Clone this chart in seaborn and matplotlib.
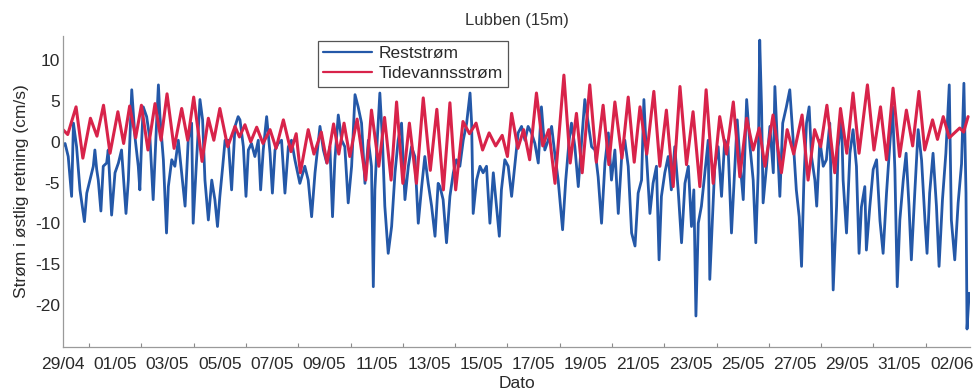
import numpy as np
import pandas as pd
import matplotlib
matplotlib.use("Agg")
import matplotlib.pyplot as plt
import matplotlib.dates as mdates
import seaborn as sns

# ---------------- data ----------------
start_date = "2013-04-29"
title_text = "Lubben (15m)"
y_label = "Strøm i østlig retning (cm/s)"
x_label = "Dato"
legend_labels = ["Reststrøm", "Tidevannsstrøm"]
y_ticks = [-20, -15, -10, -5, 0, 5, 10]

# Reststrøm (days after 29/04 00:00, cm/s)
rest_day = [
    0.00, 0.08, 0.20, 0.33, 0.40, 0.52, 0.65, 0.82, 0.91, 1.03, 1.16, 1.22, 1.29, 1.35, 1.45, 1.54,
    1.67, 1.73, 1.86, 1.99, 2.12, 2.24, 2.41, 2.50, 2.63, 2.75, 2.88, 2.94, 3.01, 3.07, 3.20, 3.33,
    3.45, 3.58, 3.65, 3.71, 3.84, 3.96, 4.03, 4.16, 4.28, 4.41, 4.54, 4.67, 4.79, 4.92, 4.98, 5.11,
    5.24, 5.34, 5.43, 5.56, 5.69, 5.81, 5.91, 6.00, 6.11, 6.20, 6.32, 6.45, 6.58, 6.70, 6.77, 6.90,
    7.00, 7.09, 7.21, 7.34, 7.47, 7.56, 7.66, 7.79, 7.92, 8.01, 8.11, 8.23, 8.36, 8.49, 8.62, 8.74,
    8.87, 9.06, 9.25, 9.38, 9.51, 9.64, 9.83, 9.96, 10.09, 10.21, 10.31, 10.40, 10.53, 10.66, 10.78, 10.91,
    11.04, 11.17, 11.29, 11.42, 11.55, 11.68, 11.80, 11.87, 11.93, 12.02, 12.12, 12.22, 12.31, 12.44, 12.57, 12.70,
    12.82, 12.95, 13.08, 13.21, 13.33, 13.46, 13.59, 13.72, 13.84, 13.97, 14.10, 14.23, 14.35, 14.42, 14.54, 14.67,
    14.80, 14.93, 15.05, 15.18, 15.31, 15.44, 15.57, 15.63, 15.69, 15.82, 15.95, 16.07, 16.20, 16.33, 16.46, 16.58,
    16.69, 16.77, 16.90, 17.03, 17.16, 17.28, 17.41, 17.54, 17.67, 17.79, 17.92, 18.05, 18.18, 18.30, 18.43, 18.56,
    18.69, 18.81, 18.94, 19.11, 19.23, 19.36, 19.45, 19.58, 19.71, 19.84, 19.96, 20.09, 20.22, 20.35, 20.47, 20.60,
    20.73, 20.86, 20.98, 21.11, 21.24, 21.37, 21.49, 21.62, 21.75, 21.88, 22.00, 22.13, 22.22, 22.32, 22.45, 22.57,
    22.70, 22.80, 22.89, 23.02, 23.15, 23.27, 23.40, 23.53, 23.66, 23.79, 23.92, 24.04, 24.13, 24.21, 24.30, 24.42,
    24.55, 24.68, 24.74, 24.84, 24.93, 25.06, 25.19, 25.31, 25.44, 25.57, 25.70, 25.79, 25.89, 26.02, 26.15, 26.28,
    26.40, 26.50, 26.59, 26.65, 26.72, 26.78, 26.91, 27.04, 27.17, 27.23, 27.32, 27.42, 27.53, 27.67, 27.80, 27.93,
    28.05, 28.16, 28.25, 28.34, 28.44, 28.54, 28.63, 28.76, 28.83, 28.95, 29.08, 29.20, 29.33, 29.46, 29.59, 29.65,
    29.78, 29.84, 29.97, 30.10, 30.22, 30.35, 30.45, 30.54, 30.67, 30.73, 30.86, 30.99, 31.12, 31.25, 31.37, 31.50,
    31.62, 31.73, 31.82, 31.91, 32.01, 32.14, 32.25, 32.36, 32.45, 32.58, 32.71, 32.84, 32.97, 33.05, 33.15, 33.28,
    33.41, 33.51, 33.64, 33.77, 33.90, 33.98, 34.11, 34.24, 34.37, 34.46, 34.54, 34.58, 34.66,
]
rest_val = [
    -0.5, -0.2, -1.8, -6.7, 2.3, -0.6, -5.9, -9.8, -6.3, -4.7, -3.0, -1.0, -3.4, -4.7, -8.5, -3.0,
    -2.6, -1.0, -9.0, -3.8, -2.6, -1.0, -8.8, -4.7, 6.4, 0.7, -3.0, -5.9, 0.2, 4.3, 3.1, 0.2,
    -7.1, 2.3, 7.0, 3.1, -2.2, -11.2, -5.5, -2.2, -3.0, 0.2, -3.8, -7.9, 0.2, 2.3, -10.0, -2.2,
    5.2, 2.7, -4.7, -9.6, -4.7, -7.1, -10.4, -6.7, -3.0, 0.2, 0.2, -5.9, 1.9, 3.1, 2.7, -0.6,
    -6.7, -1.0, -0.2, -1.8, 0.2, -5.9, -1.0, 3.1, -1.4, -6.3, -1.0, -0.2, 0.2, -6.3, -0.6, 0.2,
    -2.2, -5.1, -3.0, -4.7, -9.2, -3.8, 1.9, -1.0, -2.6, -0.6, -9.2, -2.2, 3.3, 0.2, -0.6, -7.5,
    -3.0, 5.8, 4.3, 2.3, -5.1, 0.2, -3.0, -17.8, -5.9, 0.2, 6.0, 0.2, -7.9, -13.7, -10.4, -3.8,
    0.2, 2.3, -7.1, -3.0, -0.6, -1.8, -10.0, -5.5, -1.8, -5.1, -7.9, -11.6, -5.1, -5.5, -7.1, -12.4,
    -6.7, -3.8, -2.2, -3.0, 0.2, 2.3, 6.0, 2.3, -8.8, -4.7, -3.0, -3.8, -3.0, -10.0, -3.8, -7.9,
    -11.6, -5.9, -2.2, -3.0, -6.7, -3.0, 1.1, 1.9, 0.2, 1.9, 1.1, -0.2, -2.6, 4.3, -1.0, 0.2,
    1.9, -1.4, -4.7, -10.8, -4.7, 0.2, 2.3, -0.6, -5.5, 0.2, 5.2, 2.3, -0.6, -1.0, -4.3, -10.0,
    -2.6, 1.1, -4.7, -1.0, -8.8, -1.8, 0.2, -3.0, -11.2, -12.8, -6.3, -4.7, 5.2, -1.8, -8.8, -5.1,
    -3.0, -14.5, -6.7, -3.8, -1.8, -5.9, -0.6, -5.9, -12.4, -5.1, -3.0, -10.4, -5.9, -21.4, -10.0, -7.9,
    -3.8, 0.2, -16.9, -9.6, -3.0, -0.6, -6.7, 0.2, -0.6, -11.2, -3.0, 2.7, -2.2, -7.1, 5.2, -0.6,
    -4.7, -12.4, -3.8, 12.5, 4.3, -7.5, -3.0, 1.9, -3.8, 6.8, 0.2, -6.7, 2.3, 4.3, 6.4, 0.2,
    -5.9, -9.2, -15.3, -4.7, 2.3, 4.3, -1.8, -4.7, -7.9, 0.2, -3.0, -2.2, 2.3, -18.2, -7.9, -0.6,
    2.7, -4.7, -11.2, -1.4, 1.5, -3.0, -13.7, -8.0, -5.5, -13.3, -8.0, -3.4, -2.2, -9.7, -13.7, -6.3,
    -0.6, 4.3, -3.4, -17.8, -9.6, -4.7, -1.4, -7.9, -14.5, -6.3, 1.5, -2.2, -9.6, -13.7, -6.3, -1.4,
    -7.9, -15.3, -7.1, -1.4, 7.0, -9.6, -14.5, -7.5, -2.7, 7.2, -6.3, -23.0, -18.6,
]

# Tidevannsstrøm: turning points of the tidal curve (days, cm/s)
tide_day = [
    0.00, 0.18, 0.50, 0.76, 1.05, 1.30, 1.55, 1.80, 2.10, 2.32, 2.55, 2.78, 3.00, 3.25, 3.52, 3.75,
    3.98, 4.25, 4.54, 4.77, 5.00, 5.32, 5.56, 5.77, 6.00, 6.30, 6.58, 6.75, 6.96, 7.18, 7.41, 7.65,
    7.92, 8.15, 8.43, 8.72, 8.92, 9.08, 9.38, 9.60, 9.88, 10.10, 10.35, 10.55, 10.75, 10.97, 11.25, 11.58,
    11.80, 12.08, 12.30, 12.55, 12.76, 13.00, 13.25, 13.52, 13.78, 14.05, 14.30, 14.55, 14.80, 15.02, 15.30, 15.55,
    15.80, 16.05, 16.30, 16.55, 16.80, 17.00, 17.16, 17.40, 17.62, 17.85, 18.11, 18.35, 18.58, 18.82, 19.16, 19.40,
    19.64, 19.86, 20.15, 20.40, 20.66, 20.88, 21.11, 21.38, 21.62, 21.85, 22.07, 22.33, 22.60, 22.83, 23.08, 23.34,
    23.60, 23.85, 24.10, 24.36, 24.60, 24.87, 25.12, 25.38, 25.64, 25.89, 26.15, 26.40, 26.63, 26.85, 27.16, 27.48,
    27.70, 27.95, 28.27, 28.50, 28.75, 28.98, 29.22, 29.52, 29.74, 29.98, 30.22, 30.45, 30.77, 31.02, 31.27, 31.50,
    31.75, 32.00, 32.26, 32.50, 32.74, 32.96, 33.26, 33.45, 33.67, 33.90, 34.10, 34.30, 34.45, 34.62,
]
tide_val = [
    1.5, 0.9, 4.3, -2.0, 2.9, 0.7, 4.5, -1.4, 3.7, -0.2, 4.4, 0.5, 4.5, -1.0, 4.7, 0.2,
    5.9, -0.8, 4.1, 0.2, 5.5, -2.4, 2.9, 0.2, 4.1, -0.6, 1.9, 0.6, 2.1, 0.0, 1.8, -0.2,
    1.5, -0.8, 2.7, -1.2, 1.0, -3.8, 1.5, -1.5, 1.2, -2.6, 2.2, -1.5, 2.3, -1.8, 2.8, -4.7,
    3.9, -3.0, 3.0, -4.7, 4.9, -5.1, 2.3, -5.1, 5.4, -3.5, 4.0, -5.9, 4.8, -5.9, 2.5, 1.0,
    2.3, -1.0, 1.1, -0.5, 0.8, -1.8, 3.5, -0.8, 1.5, -2.2, 6.0, -0.5, 1.5, -5.1, 8.2, -2.6,
    3.5, -3.8, 7.0, -2.5, 4.5, -2.8, 4.9, -2.0, 5.5, -2.5, 4.3, -1.5, 6.2, -3.0, 3.9, -5.5,
    6.8, -2.8, 3.7, -5.5, 6.4, -5.1, 3.1, -1.5, 4.9, -4.3, 2.9, -1.0, 1.7, -3.0, 3.3, -3.8,
    1.5, -1.5, 3.3, -4.7, 1.5, -0.6, 4.5, -3.8, 4.1, -1.4, 6.0, -1.4, 7.0, -1.0, 4.3, -2.2,
    6.6, -1.8, 3.9, -0.5, 6.2, -1.0, 2.7, 0.3, 3.1, 0.5, 1.1, 1.7, 1.2, 3.1,
]

# ---------------- figure ----------------
sns.set_theme(style="white")
plt.rcParams["font.family"] = ["Liberation Sans", "DejaVu Sans"]

fig = plt.figure(figsize=(9.78, 3.92), dpi=100)
ax = fig.add_axes([0.0644, 0.115, 0.9276, 0.793])

t0 = pd.Timestamp(start_date)
rest_df = pd.DataFrame({"Dato": t0 + pd.to_timedelta(rest_day, unit="D"), "v": rest_val})
tide_df = pd.DataFrame({"Dato": t0 + pd.to_timedelta(tide_day, unit="D"), "v": tide_val})

sns.lineplot(data=rest_df, x="Dato", y="v", ax=ax, color="#2458a8", linewidth=2.0,
             estimator=None, sort=False, label=legend_labels[0])
sns.lineplot(data=tide_df, x="Dato", y="v", ax=ax, color="#d8234a", linewidth=2.2,
             estimator=None, sort=False, label=legend_labels[1])
for ln in ax.get_lines():
    ln.set_solid_joinstyle("round")

ax.set_xlim(t0, t0 + pd.Timedelta(days=34.7))
ax.set_ylim(-25.2, 13.0)
ax.set_yticks(y_ticks)
ax.set_yticklabels([str(v) for v in y_ticks])
ax.set_xticks(pd.date_range(t0, periods=18, freq="2D"))
ax.xaxis.set_major_formatter(mdates.DateFormatter("%d/%m"))
ax.xaxis.set_minor_locator(mdates.DayLocator())

for s in ["top", "right"]:
    ax.spines[s].set_visible(False)
for s in ["left", "bottom"]:
    ax.spines[s].set_color("#9a9a9a")
    ax.spines[s].set_linewidth(0.9)

ax.tick_params(axis="both", which="both", direction="in", colors="#8a8a8a",
               labelcolor="#2a2a2a", labelsize=12.5)
ax.tick_params(axis="both", which="major", length=5, width=0.8)
ax.tick_params(axis="x", which="minor", length=3, width=0.8, bottom=True)
ax.tick_params(axis="y", which="major", pad=2)
ax.tick_params(axis="x", which="major", pad=7)

ax.set_xlabel(x_label, fontsize=12.5, color="#2a2a2a", labelpad=3)
ax.set_ylabel(y_label, fontsize=12.5, color="#2a2a2a", labelpad=4)
ax.set_title(title_text, fontsize=12, color="#333333", pad=8)

leg = ax.legend(loc="upper left", bbox_to_anchor=(0.281, 0.985), fontsize=12.5,
                frameon=True, fancybox=False, handlelength=2.8, borderpad=0.3,
                labelspacing=0.3, handletextpad=0.4, borderaxespad=0)
leg.get_frame().set_edgecolor("#555555")
leg.get_frame().set_linewidth(0.9)
leg.get_frame().set_facecolor("white")
leg.get_frame().set_alpha(1.0)
for txt in leg.get_texts():
    txt.set_color("#2a2a2a")
for h in leg.get_lines():
    h.set_linewidth(1.6)

fig.savefig("out.png", dpi=100)
